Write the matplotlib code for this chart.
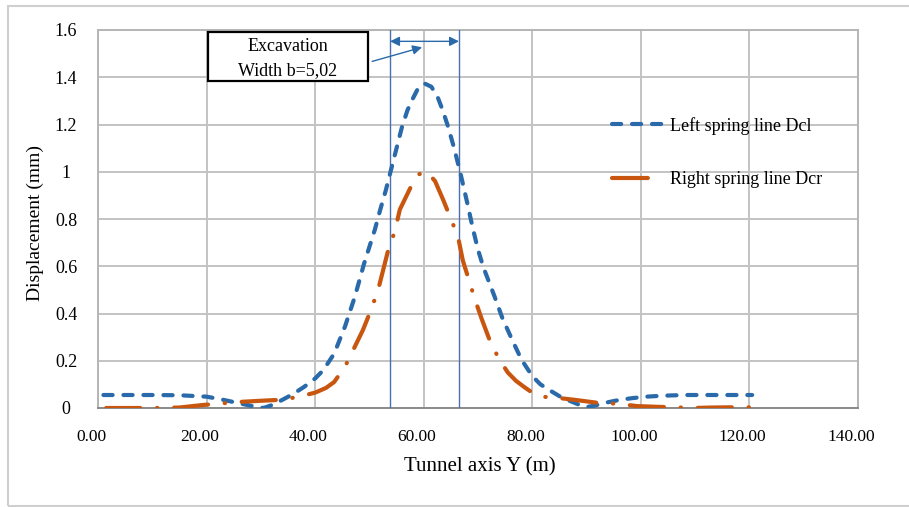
import matplotlib.pyplot as plt
from matplotlib.lines import Line2D
from matplotlib.patches import Rectangle
from matplotlib.transforms import ScaledTranslation

plt.rcParams['font.family'] = ['Liberation Serif', 'DejaVu Serif']

# Left spring line Dcl
left_y = [1, 5, 10, 15, 20, 23, 26, 28.5, 30.5, 32, 34, 36, 38, 40, 41.5, 43.5,
          45.5, 47.3, 49, 51, 52, 53, 54, 55, 56, 57, 58, 59, 60.2, 61.4, 62.5,
          63.5, 64.5, 65.6, 66.7, 68, 69, 70, 71, 72, 73, 74.5, 76.3, 78, 80,
          81.5, 83, 85, 86.5, 88.5, 90, 91.5, 93, 96, 98.5, 101, 104, 108, 114,
          120.5]
left_d = [0.055, 0.055, 0.055, 0.054, 0.048, 0.035, 0.02, 0.008, 0.0, 0.012,
          0.035, 0.06, 0.09, 0.125, 0.16, 0.23, 0.345, 0.47, 0.61, 0.755, 0.84,
          0.92, 1.01, 1.1, 1.19, 1.26, 1.31, 1.355, 1.373, 1.36, 1.32, 1.26,
          1.19, 1.1, 1.0, 0.87, 0.765, 0.67, 0.595, 0.535, 0.475, 0.38, 0.288,
          0.205, 0.135, 0.1, 0.078, 0.05, 0.034, 0.015, 0.004, 0.01, 0.02,
          0.034, 0.042, 0.048, 0.052, 0.055, 0.055, 0.055]

# Right spring line Dcr
right_y = [1.5, 5, 10, 15, 19, 22, 25.5, 29.5, 33, 36.5, 40, 42, 43.5, 45.5, 47,
           48.8, 50.2, 51.6, 53.4, 54.7, 55.6, 57.5, 59.2, 60.6, 62.1, 63.7, 65,
           66.3, 67.2, 68.4, 69.5, 70.7, 72.1, 73.8, 75.5, 77, 78.5, 80, 81.7,
           83.5, 85, 88, 92, 95.8, 99.3, 103, 106.3, 109.6, 113, 117, 120.5]
right_d = [0.0, 0.0, 0.0, 0.002, 0.012, 0.018, 0.025, 0.03, 0.034, 0.045, 0.065,
           0.085, 0.11, 0.175, 0.245, 0.33, 0.41, 0.5, 0.663, 0.75, 0.84, 0.93,
           0.99, 1.0, 0.96, 0.875, 0.8, 0.727, 0.625, 0.536, 0.455, 0.376, 0.29,
           0.21, 0.15, 0.115, 0.089, 0.065, 0.048, 0.045, 0.042, 0.034, 0.022,
           0.018, 0.008, 0.005, 0.003, 0.0, 0.002, 0.003, 0.003]

x_ticks = [0, 20, 40, 60, 80, 100, 120, 140]
x_tick_labels = ['0.00', '20.00', '40.00', '60.00', '80.00', '100.00', '120.00', '140.00']
y_ticks = [0, 0.2, 0.4, 0.6, 0.8, 1.0, 1.2, 1.4, 1.6]
y_tick_labels = ['0', '0.2', '0.4', '0.6', '0.8', '1', '1.2', '1.4', '1.6']

exc_left, exc_right = 53.8, 66.5

blue = '#2a6aaa'
orange = '#c8560f'

fig = plt.figure(figsize=(9.09, 5.07), dpi=100)
ax = fig.add_axes([98 / 909, 1 - 408 / 507, 760 / 909, 378 / 507])

# outer frame
fig.patches.append(Rectangle((8 / 909, 1 / 507), 1.0, 1 - 7 / 507,
                             transform=fig.transFigure, fill=False,
                             ec='#cfcfcf', lw=1.5))

ax.plot(left_y, left_d, color=blue, lw=3, dashes=(2.2, 2.6),
        dash_capstyle='round', zorder=4)
ax.plot(right_y, right_d, color=orange, lw=3, dashes=(8.2, 4.0, 0.1, 4.0),
        dash_capstyle='round', zorder=4)

ax.set_xlim(0, 140)
ax.set_ylim(0, 1.6)
ax.set_xticks(x_ticks)
ax.set_xticklabels(x_tick_labels)
ax.set_yticks(y_ticks)
ax.set_yticklabels(y_tick_labels)
ax.tick_params(axis='x', length=0, pad=15, labelsize=12.5)
ax.tick_params(axis='y', length=0, pad=23, labelsize=13)
for lbl in ax.get_yticklabels():
    lbl.set_ha('center')
for lbl in ax.get_xticklabels():
    lbl.set_transform(lbl.get_transform() + ScaledTranslation(-0.07, 0, fig.dpi_scale_trans))

ax.grid(True, color='#c3c3c3', lw=1.4)
ax.set_axisbelow(True)
for s in ax.spines.values():
    s.set_color('#b5b5b5')
    s.set_linewidth(1.4)
ax.spines['bottom'].set_color('#8a8a8a')

ax.set_xlabel('Tunnel axis Y (m)', fontsize=15)
ax.xaxis.label.set_va('center')
ax.xaxis.set_label_coords(0.503, -0.156)
ax.set_ylabel('Displacement (mm)', fontsize=14)
ax.yaxis.label.set_va('center')
ax.yaxis.set_label_coords(-0.083, 0.49)

# excavation width
ax.axvline(exc_left, color='#4a70b0', lw=1, zorder=3)
ax.axvline(exc_right, color='#4a70b0', lw=1, zorder=3)
ax.annotate('', xy=(exc_left, 1.552), xytext=(exc_right, 1.552),
            arrowprops=dict(arrowstyle='<|-|>', color=blue, lw=1,
                            mutation_scale=14, shrinkA=0, shrinkB=0), zorder=5)
ax.annotate('', xy=(59.7, 1.527), xytext=(50.5, 1.467),
            arrowprops=dict(arrowstyle='-|>', color=blue, lw=1,
                            mutation_scale=14, shrinkA=0, shrinkB=0), zorder=5)
ax.add_patch(Rectangle((20.3, 1.383), 29.4, 0.207, fc='white', ec='black',
                       lw=1.6, zorder=5))
ax.text(35, 1.531, 'Excavation', ha='center', va='center', fontsize=13, zorder=6)
ax.text(35, 1.429, 'Width b=5,02', ha='center', va='center', fontsize=13, zorder=6)

handles = [
    Line2D([], [], color=blue, lw=3, dashes=(2.2, 2.6), dash_capstyle='round'),
    Line2D([], [], color=orange, lw=3, dashes=(8.6, 20), dash_capstyle='round'),
]
ax.legend(handles, ['Left spring line Dcl', 'Right spring line Dcr'],
          loc='upper left', bbox_to_anchor=(0.676, 0.77), frameon=False,
          fontsize=13, handlelength=3.0, handletextpad=0.22, labelspacing=2.0,
          borderpad=0, borderaxespad=0)

fig.savefig('out.png', dpi=100)
